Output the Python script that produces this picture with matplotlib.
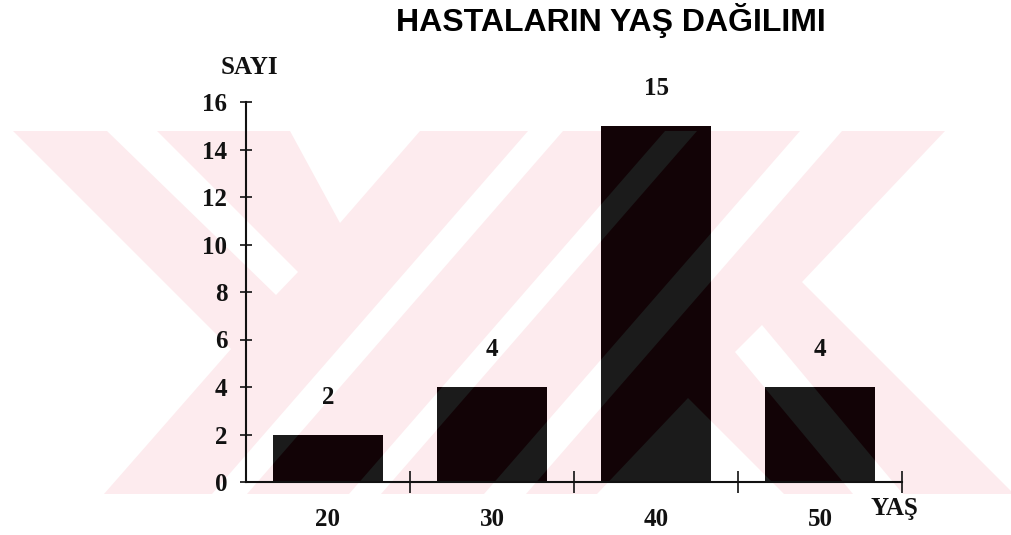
import matplotlib
matplotlib.use("Agg")
import matplotlib.pyplot as plt
from matplotlib.patches import Polygon, Rectangle
import numpy as np

# ---- data ----
age_groups = ["20", "30", "40", "50"]
patient_counts = [2, 4, 15, 4]
y_ticks = [0, 2, 4, 6, 8, 10, 12, 14, 16]
title = "HASTALARIN YAŞ DAĞILIMI"
y_label = "SAYI"
x_label = "YAŞ"

# ---- styles ----
PINK = "#fdebee"
BAR_DARK = "#120306"
BAR_GREY = "#1b1b1b"
INK = "#111111"
SERIF = ["Liberation Serif", "DejaVu Serif"]
SANS = ["Liberation Sans", "DejaVu Sans"]

W, H = 1011, 535
fig = plt.figure(figsize=(W / 100, H / 100), dpi=100)
fig.patch.set_facecolor("white")

# ---- background watermark (pixel space of the figure) ----
bg = fig.add_axes([0, 0, 1, 1], zorder=0)
bg.set_xlim(0, W)
bg.set_ylim(H, 0)
bg.axis("off")
bg.add_patch(Rectangle((0, 131), W, 363, facecolor=PINK, edgecolor="none"))
white_shapes = [
    [(0, 131), (13, 131), (231, 349), (104, 494), (0, 494)],
    [(107, 131), (157, 131), (298, 272), (276, 295)],
    [(290, 131), (420, 131), (340, 223)],
    [(528, 131), (563, 131), (247, 494), (212, 494)],
    [(665, 131), (697, 131), (381, 494), (349, 494)],
    [(800, 131), (842, 131), (526, 494), (484, 494)],
    [(945, 131), (W, 131), (W, 491), (802, 282)],
    [(688, 398), (784, 494), (597, 494)],
    [(762, 325), (903, 494), (853, 494), (735, 352)],
]
white_patches = []
for pts in white_shapes:
    p = Polygon(pts, closed=True, facecolor="white", edgecolor="none")
    bg.add_patch(p)
    white_patches.append(p)

# ---- main axes ----
ax = fig.add_axes([246 / W, 53 / H, 656 / W, 380 / H], zorder=1)
ax.patch.set_alpha(0)

x = np.arange(len(age_groups))
bar_w = 0.67
ax.bar(x, patient_counts, width=bar_w, color=BAR_DARK, zorder=2)
for wp in white_patches:
    grey = ax.bar(x, patient_counts, width=bar_w, color=BAR_GREY, zorder=2.1)
    for r in grey:
        r.set_clip_path(wp)

ax.set_xlim(-0.5, len(age_groups) - 0.5)
ax.set_ylim(0, 16)

for s in ("top", "right"):
    ax.spines[s].set_visible(False)
for s in ("left", "bottom"):
    ax.spines[s].set_color(INK)
    ax.spines[s].set_linewidth(1.5)

ax.set_yticks(y_ticks)
ax.set_yticklabels([str(t) for t in y_ticks])
ax.tick_params(axis="y", direction="inout", length=9, width=1.2, color=INK,
               pad=9, labelsize=18, labelcolor=INK)
for lab in ax.get_yticklabels():
    lab.set_fontfamily(SERIF)
    lab.set_fontweight("bold")

ax.set_xticks(x)
ax.set_xticklabels(age_groups)
ax.set_xticks(x + 0.5, minor=True)
ax.tick_params(axis="x", which="major", length=0, pad=19, labelsize=18,
               labelcolor=INK)
ax.tick_params(axis="x", which="minor", direction="inout", length=16,
               width=1.2, color=INK)
for lab in ax.get_xticklabels():
    lab.set_fontfamily(SERIF)
    lab.set_fontweight("bold")

for xi, v in zip(x, patient_counts):
    ax.annotate(str(v), (xi, v), xytext=(0, 27), textcoords="offset points",
                ha="center", va="center", fontsize=18, fontweight="bold",
                family=SERIF, color=INK)

fig.text(249 / W, 1 - 74 / H, y_label, ha="center", va="baseline",
         fontsize=18, fontweight="bold", family=SERIF, color=INK)
fig.text(894 / W, 1 - 515 / H, x_label, ha="center", va="baseline",
         fontsize=18, fontweight="bold", family=SERIF, color=INK)
fig.text(611 / W, 1 - 31 / H, title, ha="center", va="baseline",
         fontsize=23, fontweight="bold", family=SANS, color="black")

fig.savefig("out.png", dpi=100)
